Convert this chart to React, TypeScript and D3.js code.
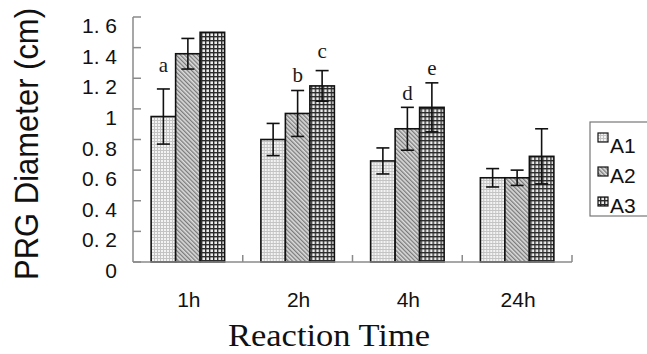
import React from "react";
import * as d3 from "d3";

const categories = ["1h", "2h", "4h", "24h"];
const series = ["A1", "A2", "A3"];
const A1 = [0.95, 0.8, 0.66, 0.55];
const A1err = [0.18, 0.105, 0.085, 0.06];
const A2 = [1.36, 0.97, 0.87, 0.55];
const A2err = [0.1, 0.15, 0.14, 0.05];
const A3 = [1.5, 1.15, 1.01, 0.69];
const A3err = [0, 0.1, 0.16, 0.18];
const yTicks = [0, 0.2, 0.4, 0.6, 0.8, 1, 1.2, 1.4, 1.6];
const letterCats = ["1h", "2h", "2h", "4h", "4h"];
const letterSeries = ["A1", "A2", "A3", "A2", "A3"];
const letterText = ["a", "b", "c", "d", "e"];
const letterY = [1.24, 1.175, 1.33, 1.06, 1.22];

const values: Record<string, number[]> = { A1, A2, A3 };
const errors: Record<string, number[]> = { A1: A1err, A2: A2err, A3: A3err };

const W = 647;
const H = 354;
const left = 133;
const right = 572;
const top = 17;
const bottom = 262;

const fmt = (v: number) => {
  if (v === 0) return "0";
  if (Number.isInteger(v)) return String(v);
  const s = v.toFixed(1);
  return s.replace(".", ". ");
};

export default function App() {
  const y = d3.scaleLinear().domain([0, 1.6]).range([bottom, top]);
  const x0 = d3.scaleBand<string>().domain(categories).range([left, right]).paddingInner(0).paddingOuter(0);
  const bw = x0.bandwidth();
  const x1 = d3.scaleBand<string>().domain(series).range([0, bw]).paddingInner(0).paddingOuter(0.74);
  const barW = x1.bandwidth();
  const fills: Record<string, string> = { A1: "url(#pA1)", A2: "url(#pA2)", A3: "url(#pA3)" };
  const sans = "'Liberation Sans', Arial, sans-serif";
  const serif = "'Liberation Serif', 'Times New Roman', serif";
  const cap = 13;
  const axisColor = "#8a8a8a";

  return (
    <svg width={W} height={H} style={{ position: "absolute", left: 0, top: 0, background: "#fff" }}>
      <defs>
        <pattern id="pA1" width={3} height={3} patternUnits="userSpaceOnUse">
          <rect width={3} height={3} fill="#f4f4f4" />
          <rect x={0} y={0} width={3} height={1} fill="#c4c4c4" />
          <rect x={0} y={0} width={1} height={3} fill="#c4c4c4" />
        </pattern>
        <pattern id="pA2" width={3} height={3} patternUnits="userSpaceOnUse" patternTransform="rotate(-45)">
          <rect width={3} height={3} fill="#dcdcdc" />
          <rect x={0} y={0} width={1.3} height={3} fill="#7a7a7a" />
        </pattern>
        <pattern id="pA3" width={4} height={4} patternUnits="userSpaceOnUse">
          <rect width={4} height={4} fill="#ececec" />
          <rect x={0} y={0} width={4} height={1.4} fill="#2c2c2c" />
          <rect x={0} y={0} width={1.4} height={4} fill="#2c2c2c" />
        </pattern>
      </defs>

      {/* y axis */}
      <line x1={left} x2={left} y1={y(1.6)} y2={bottom} stroke={axisColor} strokeWidth={1.5} />
      {yTicks.map((t) => (
        <g key={t}>
          <line x1={left} x2={left + 8} y1={y(t)} y2={y(t)} stroke={axisColor} strokeWidth={1.5} />
          <text x={117} y={y(t) + 16} textAnchor="end" fontFamily={sans} fontSize={21} fill="#111">
            {fmt(t)}
          </text>
        </g>
      ))}

      {/* bars */}
      {categories.map((c, ci) => (
        <g key={c} transform={`translate(${x0(c)},0)`}>
          {series.map((s) => {
            const v = values[s][ci];
            return (
              <rect
                key={s}
                x={x1(s)}
                y={y(v)}
                width={barW}
                height={bottom - y(v)}
                fill={fills[s]}
                stroke="#111"
                strokeWidth={1.6}
              />
            );
          })}
          {series.map((s) => {
            const v = values[s][ci];
            const e = errors[s][ci];
            if (!e) return null;
            const cx = (x1(s) as number) + barW / 2;
            return (
              <g key={s + "e"} stroke="#111" strokeWidth={1.6}>
                <line x1={cx} x2={cx} y1={y(v + e)} y2={y(v - e)} />
                <line x1={cx - cap / 2} x2={cx + cap / 2} y1={y(v + e)} y2={y(v + e)} />
                <line x1={cx - cap / 2} x2={cx + cap / 2} y1={y(v - e)} y2={y(v - e)} />
              </g>
            );
          })}
        </g>
      ))}

      {/* x axis */}
      <line x1={left} x2={right} y1={bottom} y2={bottom} stroke={axisColor} strokeWidth={1.5} />
      {categories.map((c) => (
        <line
          key={c + "t"}
          x1={(x0(c) as number) + bw}
          x2={(x0(c) as number) + bw}
          y1={bottom}
          y2={bottom - 7}
          stroke={axisColor}
          strokeWidth={1.5}
        />
      ))}
      {categories.map((c) => (
        <text
          key={c + "l"}
          x={(x0(c) as number) + bw / 2 + 1}
          y={307}
          textAnchor="middle"
          fontFamily={sans}
          fontSize={21}
          fill="#111"
        >
          {c}
        </text>
      ))}

      {/* significance letters */}
      {letterText.map((t, i) => (
        <text
          key={t}
          x={(x0(letterCats[i]) as number) + (x1(letterSeries[i]) as number) + barW / 2}
          y={y(letterY[i])}
          textAnchor="middle"
          fontFamily={serif}
          fontSize={21}
          fill="#1a1a1a"
        >
          {t}
        </text>
      ))}

      {/* axis titles */}
      <text
        transform="translate(38,144) rotate(-90)"
        textAnchor="middle"
        fontFamily={sans}
        fontSize={33}
        textLength={272}
        lengthAdjust="spacingAndGlyphs"
        fill="#111"
      >
        PRG Diameter (cm)
      </text>
      <text
        x={329}
        y={346}
        textAnchor="middle"
        fontFamily={serif}
        fontSize={32}
        textLength={202}
        lengthAdjust="spacingAndGlyphs"
        fill="#111"
      >
        Reaction Time
      </text>

      {/* legend */}
      <rect x={590} y={122} width={80} height={94} fill="#fff" stroke="#777" strokeWidth={1.2} />
      {series.map((s, i) => (
        <g key={s + "lg"}>
          <rect x={598} y={137 + i * 30 - 4 * (i === 0 ? 1 : 0)} width={10} height={9} fill={fills[s]} stroke="#111" strokeWidth={1.2} />
          <text x={610} y={153 + i * 30} fontFamily={sans} fontSize={21} fill="#111">
            {s}
          </text>
        </g>
      ))}
    </svg>
  );
}
